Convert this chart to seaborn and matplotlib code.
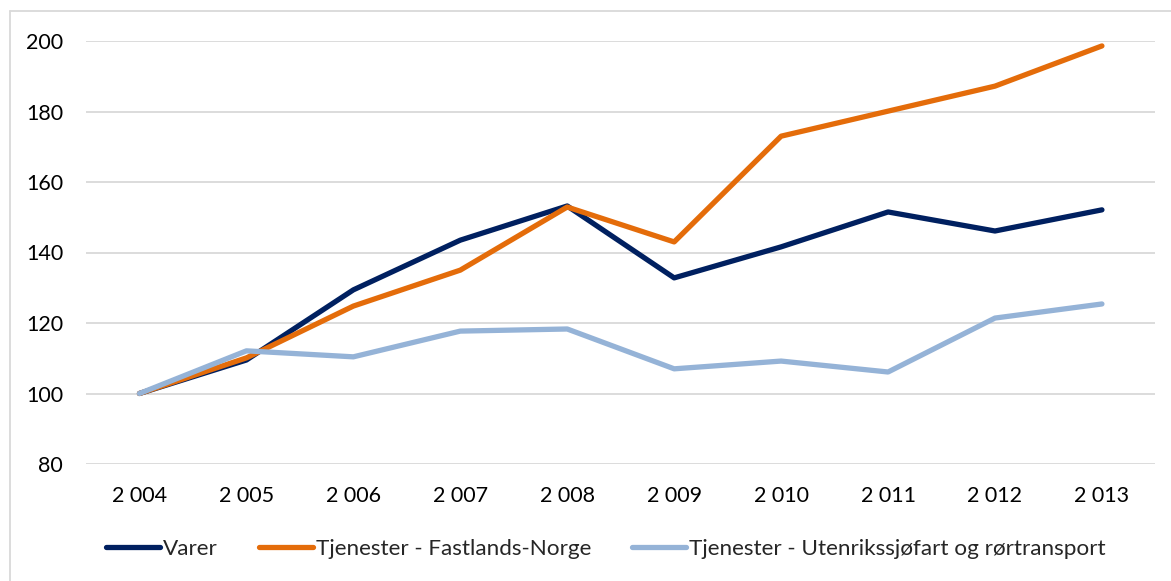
import matplotlib
matplotlib.use("Agg")
import matplotlib.pyplot as plt
import seaborn as sns
import pandas as pd
from matplotlib.lines import Line2D

years = ["2 004", "2 005", "2 006", "2 007", "2 008", "2 009", "2 010", "2 011", "2 012", "2 013"]
varer = [100, 109.5, 129.4, 143.5, 153.2, 132.8, 141.6, 151.5, 146.1, 152.1]
fastland = [100, 110.1, 124.8, 135.0, 152.9, 143.0, 173.0, 180.1, 187.2, 198.6]
utenriks = [100, 112.1, 110.4, 117.7, 118.3, 107.0, 109.2, 106.1, 121.4, 125.4]
series_names = ["Varer", "Tjenester - Fastlands-Norge", "Tjenester - Utenrikssjøfart og rørtransport"]
colors = ["#002060", "#E46C0A", "#95B3D7"]

rows = []
for name, vals in zip(series_names, [varer, fastland, utenriks]):
    for i, (y, v) in enumerate(zip(years, vals)):
        rows.append({"idx": i, "year": y, "value": v, "series": name})
df = pd.DataFrame(rows)

sns.set_style("white")
plt.rcParams["font.family"] = ["Lato", "DejaVu Sans"]

fig = plt.figure(figsize=(11.71, 5.81), dpi=100)
ax = fig.add_axes([86 / 1171, 1 - 464 / 581, (1155.4 - 86) / 1171, (464 - 41) / 581])

sns.lineplot(data=df, x="idx", y="value", hue="series", hue_order=series_names,
             palette=colors, linewidth=3.8, ax=ax, legend=False, sort=False,
             solid_capstyle="round")

ax.set_xlim(-0.5, len(years) - 0.5)
ax.set_ylim(80, 200)
ax.set_yticks(range(80, 201, 20))
ax.set_xticks(range(len(years)))
ax.set_xticklabels(years)
ax.grid(axis="y", color="#D9D9D9", linewidth=1.3)
ax.set_axisbelow(True)
for s in ax.spines.values():
    s.set_visible(False)
ax.tick_params(axis="both", length=0, labelsize=15.5, colors="#000000")
ax.tick_params(axis="y", pad=16.5)
ax.tick_params(axis="x", pad=16)
ax.set_xlabel("")
ax.set_ylabel("")

handles = [Line2D([0], [0], color=c, linewidth=3.8, solid_capstyle="round") for c in colors]
fig.legend(handles, series_names, loc="center left", bbox_to_anchor=(106 / 1171, 1 - 549 / 581),
           ncol=3, frameon=False, fontsize=16.2, handlelength=2.4, handletextpad=0.15,
           columnspacing=1.8, borderaxespad=0, borderpad=0)

# outer chart border (top and left visible)
fig.add_artist(Line2D([10 / 1171, 1.0], [1 - 11 / 581] * 2, color="#D9D9D9", linewidth=1.3,
                      transform=fig.transFigure))
fig.add_artist(Line2D([10 / 1171] * 2, [0, 1 - 11 / 581], color="#D9D9D9", linewidth=1.3,
                      transform=fig.transFigure))

fig.savefig("out.png", dpi=100)
